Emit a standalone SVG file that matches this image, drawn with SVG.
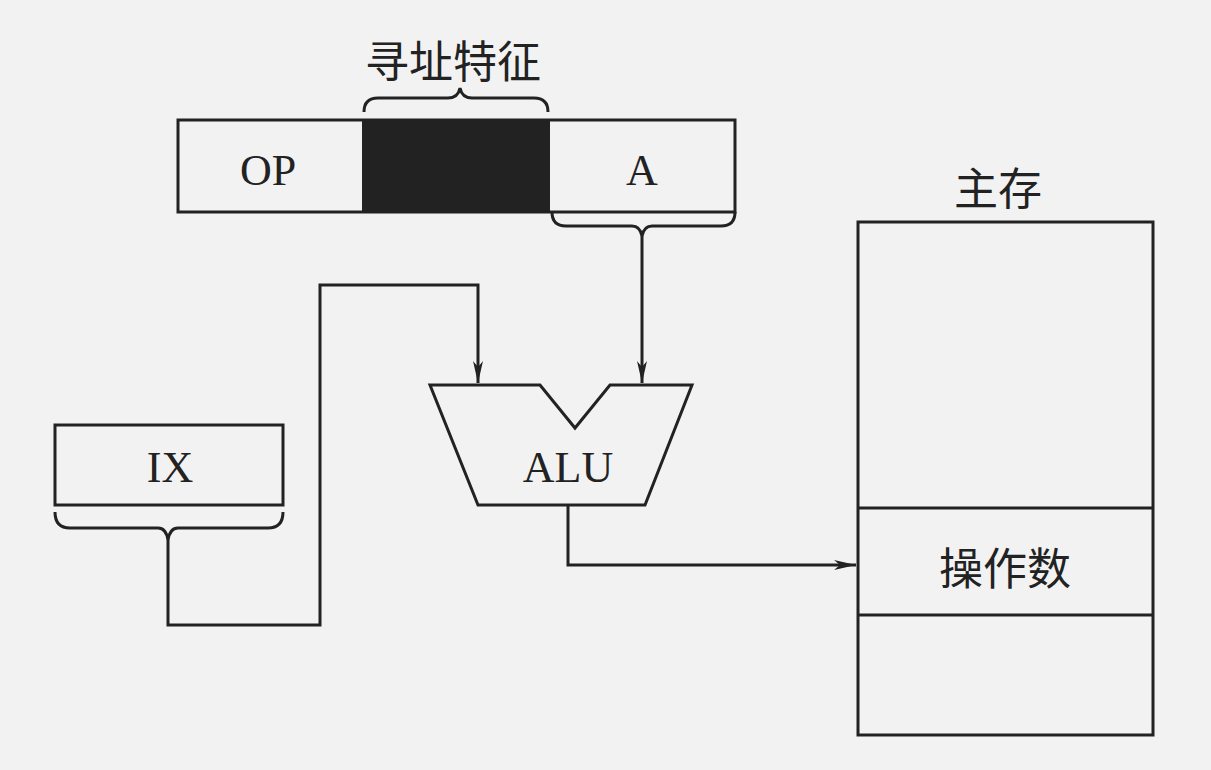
<svg xmlns="http://www.w3.org/2000/svg" width="1211" height="770" viewBox="0 0 1211 770">
<style>
.s{fill:none;stroke:#222;stroke-width:3}
.t{font-family:"Liberation Serif","Noto Sans CJK SC",serif;fill:#222;text-anchor:middle}
</style>
<defs><marker id="a" markerWidth="22" markerHeight="10" refX="22" refY="5" orient="auto" markerUnits="userSpaceOnUse"><path d="M0,0L22,5L0,10L6,5Z" fill="#222"/></marker></defs>
<rect width="1211" height="770" fill="#f2f2f2"/>
<g id="instr">
<rect x="178" y="120" width="557" height="92" class="s" fill="#fff"/>
<rect x="362" y="120" width="188" height="92" fill="#222"/>
<text class="t" x="268" y="185" font-size="44">OP</text>
<text class="t" x="642" y="185" font-size="44">A</text>
<path class="s" d="M364,112Q364,98 378,98H448Q458,98 460,88Q462,98 472,98H534Q548,98 548,112"/>
<text class="t" x="453" y="78" font-size="44">寻址特征</text>
<path class="s" d="M552,212Q552,226 566,226H632Q640,226 642,236Q644,226 652,226H721Q735,226 735,212"/>
</g>
<g id="ix">
<rect x="55" y="425" width="228" height="80" class="s" fill="#fff"/>
<text class="t" x="170" y="482" font-size="44">IX</text>
<path class="s" d="M55,512Q55,528 70,528H158Q166,528 168,540Q170,528 178,528H268Q283,528 283,512"/>
</g>
<g id="alu">
<path class="s" fill="#fff" d="M430,385H540L575,428L610,385H692L645,505H478Z"/>
<text class="t" x="568" y="482" font-size="44">ALU</text>
</g>
<g id="mem">
<rect x="858" y="222" width="295" height="513" class="s" fill="#fff"/>
<line x1="858" y1="508" x2="1153" y2="508" class="s"/>
<line x1="858" y1="615" x2="1153" y2="615" class="s"/>
<text class="t" x="1005" y="585" font-size="44">操作数</text>
<text class="t" x="998" y="205" font-size="44">主存</text>
</g>
<g id="connectors">
<path class="s" d="M642,236V383" marker-end="url(#a)"/>
<path class="s" d="M168,540V625H320V285H478V383" marker-end="url(#a)"/>
<path class="s" d="M568,505V565H856" marker-end="url(#a)"/>
</g>
</svg>
